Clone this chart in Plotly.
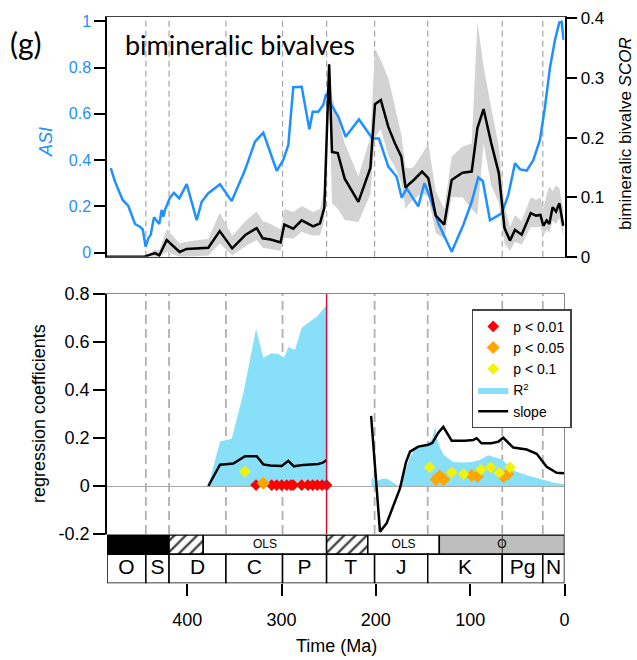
import plotly.graph_objects as go

# ---------------- data ----------------
# Geological periods (Ma)
period_names = ["O", "S", "D", "C", "P", "T", "J", "K", "Pg", "N"]
period_start = [485.0, 443.8, 419.2, 358.9, 298.9, 252.2, 201.3, 145.0, 66.0, 23.0]
period_end = [443.8, 419.2, 358.9, 298.9, 252.2, 201.3, 145.0, 66.0, 23.0, 0.0]
boundaries = [443.8, 419.2, 358.9, 298.9, 252.2, 201.3, 145.0, 66.0, 23.0]

# Regression method per interval
method_start = [485.0, 419.2, 383.0, 252.2, 208.5, 132.7]
method_end = [419.2, 383.0, 252.2, 208.5, 132.7, 0.0]
method_label = ["", "", "OLS", "", "OLS", "O"]
method_color = ["black", "white", "white", "white", "white", "#BEBEBE"]
method_pattern = ["", "/", "", "/", "", ""]

# Top panel: ASI
asi_age = [481.0, 476.5, 468.4, 462.4, 455.3, 450.0, 447.2, 444.0, 441.2, 438.7,
           435.2, 432.3, 429.6, 427.0, 425.3, 423.5, 421.7, 418.2, 414.0, 408.4,
           400.5, 389.9, 384.6, 377.6, 365.2, 352.8, 338.7, 328.1, 319.3, 305.1,
           298.1, 292.8, 287.5, 278.6, 270.5, 266.9, 261.0, 255.7, 252.8, 246.2,
           239.8, 232.0, 217.9, 203.7, 196.7, 186.8, 177.9, 172.6, 167.3, 162.0,
           155.0, 148.5, 142.6, 133.8, 119.6, 107.3, 98.4, 91.4, 86.6, 79.0,
           66.6, 59.6, 52.5, 47.0, 40.1, 33.1, 26.0, 20.7, 15.4, 10.1,
           5.5, 3.0, 1.0]
asi = [0.365, 0.307, 0.228, 0.202, 0.124, 0.112, 0.101, 0.026, 0.062, 0.077,
       0.153, 0.138, 0.124, 0.185, 0.156, 0.185, 0.206, 0.238, 0.259, 0.235,
       0.296, 0.141, 0.220, 0.257, 0.296, 0.223, 0.357, 0.480, 0.519, 0.354,
       0.401, 0.465, 0.715, 0.717, 0.533, 0.609, 0.609, 0.638, 0.686, 0.631,
       0.588, 0.501, 0.576, 0.494, 0.494, 0.372, 0.328, 0.238, 0.278, 0.242,
       0.200, 0.300, 0.240, 0.127, 0.004, 0.120, 0.220, 0.325, 0.310, 0.140,
       0.170, 0.250, 0.386, 0.360, 0.355, 0.400, 0.487, 0.630, 0.800, 0.919,
       0.995, 0.998, 0.920]

# Top panel: SCOR with its uncertainty band
scor_age = [485.0, 445.0, 440.0, 434.0, 429.6, 421.7, 408.0, 400.6, 377.6, 365.5,
            352.3, 338.0, 326.3, 320.0, 311.5, 301.0, 297.0, 287.5, 278.6, 266.5,
            259.2, 254.6, 249.5, 246.5, 240.4, 233.0, 218.5, 205.8, 200.9, 194.7,
            186.8, 179.7, 173.0, 168.5, 164.0, 160.3, 151.0, 144.4, 136.5, 127.5,
            119.6, 108.2, 98.4, 92.3, 85.8, 77.7, 69.6, 63.6, 57.8, 52.5,
            45.4, 35.8, 30.2, 25.5, 22.5, 18.9, 16.1, 12.6, 9.0, 5.5,
            1.3]
scor = [0.0, 0.0, 0.003, 0.006, 0.002, 0.028, 0.008, 0.013, 0.015, 0.043,
        0.014, 0.037, 0.048, 0.031, 0.029, 0.024, 0.054, 0.047, 0.061, 0.051,
        0.056, 0.082, 0.323, 0.176, 0.174, 0.131, 0.092, 0.149, 0.256, 0.263,
        0.218, 0.190, 0.168, 0.116, 0.123, 0.128, 0.143, 0.132, 0.069, 0.054,
        0.129, 0.141, 0.143, 0.216, 0.248, 0.191, 0.140, 0.048, 0.027, 0.045,
        0.037, 0.073, 0.069, 0.070, 0.052, 0.061, 0.055, 0.083, 0.076, 0.090,
        0.052]
scor_lo = [0.0, 0.0, 0.0, 0.0, 0.0, 0.008, 0.0, 0.0, 0.002, 0.022,
           0.002, 0.018, 0.028, 0.015, 0.013, 0.010, 0.032, 0.030, 0.042, 0.035,
           0.036, 0.060, 0.280, 0.090, 0.080, 0.062, 0.058, 0.105, 0.200, 0.215,
           0.170, 0.150, 0.125, 0.080, 0.090, 0.095, 0.108, 0.100, 0.040, 0.030,
           0.100, 0.100, 0.080, 0.070, 0.190, 0.120, 0.090, 0.022, 0.010, 0.025,
           0.020, 0.050, 0.050, 0.050, 0.035, 0.045, 0.040, 0.060, 0.055, 0.065,
           0.035]
scor_hi = [0.0, 0.0, 0.005, 0.012, 0.010, 0.046, 0.022, 0.025, 0.030, 0.074,
           0.035, 0.060, 0.076, 0.060, 0.055, 0.046, 0.080, 0.075, 0.085, 0.075,
           0.080, 0.110, 0.330, 0.270, 0.235, 0.190, 0.135, 0.200, 0.350, 0.330,
           0.300, 0.250, 0.205, 0.150, 0.148, 0.150, 0.172, 0.190, 0.110, 0.080,
           0.168, 0.185, 0.190, 0.395, 0.320, 0.250, 0.185, 0.085, 0.050, 0.070,
           0.060, 0.100, 0.095, 0.100, 0.080, 0.105, 0.118, 0.110, 0.120, 0.115,
           0.080]

# Bottom panel: regression slope (gap between the two fitted intervals)
slope_age = [377.6, 365.2, 351.1, 338.7, 326.3, 319.3, 312.2, 299.8, 292.8, 286.8,
             276.9, 261.0, 256.3, 252.1, None, 205.0, 195.6, 188.5, 174.4, 168.0,
             163.8, 155.0, 144.4, 140.0, 133.8, 128.5, 119.6, 105.5, 96.7, 93.1,
             88.0, 77.2, 70.0, 64.9, 54.3, 40.1, 29.5, 18.9, 8.3, 0.5]
slope = [0.0, 0.089, 0.094, 0.124, 0.124, 0.090, 0.085, 0.083, 0.105, 0.082,
         0.088, 0.092, 0.097, 0.108, None, 0.292, -0.190, -0.155, -0.010, 0.100,
         0.143, 0.164, 0.172, 0.180, 0.222, 0.246, 0.189, 0.189, 0.192, 0.199,
         0.178, 0.178, 0.185, 0.201, 0.160, 0.152, 0.134, 0.080, 0.055, 0.053]

# Bottom panel: R^2, first and second interval
r2_age_a = [377.6, 365.2, 352.8, 340.5, 327.0, 319.3, 310.4, 303.4, 297.0, 292.8,
            285.7, 278.6, 271.6, 262.7, 252.1]
r2_a = [0.0, 0.185, 0.197, 0.386, 0.655, 0.534, 0.553, 0.550, 0.535, 0.579,
        0.568, 0.659, 0.680, 0.705, 0.754]
r2_age_b = [204.6, 204.4, 200.0, 193.0, 188.0, 182.0, 176.0, 173.0, 169.0, 164.0,
            158.0, 153.0, 144.4, 140.0, 137.0, 135.5, 132.0, 128.0, 121.0, 118.0,
            108.0, 98.0, 90.0, 81.0, 74.0, 66.0, 60.0, 54.0, 40.0, 26.0,
            12.0, 0.5]
r2_b = [0.0, 0.035, 0.020, 0.030, 0.030, 0.015, 0.0, 0.010, 0.060, 0.120,
        0.160, 0.170, 0.176, 0.200, 0.250, 0.200, 0.160, 0.130, 0.108, 0.100,
        0.098, 0.100, 0.108, 0.128, 0.120, 0.110, 0.085, 0.065, 0.045, 0.030,
        0.015, 0.007]

# Significance markers
p01_age = [327.0, 310.4, 305.1, 299.8, 294.5, 290.0, 287.5, 278.6, 272.0, 267.0,
           262.0, 257.0, 252.2]
p01_val = [0.004, 0.004, 0.004, 0.004, 0.004, 0.004, 0.004, 0.004, 0.004, 0.004,
           0.004, 0.004, 0.004]
p05_age = [319.3, 136.2, 132.4, 128.1, 98.4, 92.2, 64.5, 60.1]
p05_val = [0.011, 0.027, 0.042, 0.027, 0.044, 0.040, 0.039, 0.050]
p10_age = [338.7, 143.0, 119.5, 107.1, 88.5, 78.2, 69.2, 57.8]
p10_val = [0.060, 0.078, 0.056, 0.050, 0.068, 0.078, 0.055, 0.078]

# ---------------- layout helpers ----------------
W, H = 637, 660
BLUE = "#1E90FF"
R2_COLOR = "#88E0F8"
FONT = "Liberation Sans"


def fx(p):
    return p / W


def fy(p):
    return 1 - p / H


xdom = [fx(107), fx(564.5)]
t_range = [485, 0]

fig = go.Figure()

# --- top panel ---
fig.add_trace(go.Scatter(x=scor_age, y=scor_lo, xaxis="x", yaxis="y", mode="lines",
                         line=dict(width=0), showlegend=False, hoverinfo="skip"))
fig.add_trace(go.Scatter(x=scor_age, y=scor_hi, xaxis="x", yaxis="y", mode="lines",
                         line=dict(width=0), fill="tonexty", fillcolor="#D3D3D3",
                         showlegend=False, hoverinfo="skip"))
fig.add_trace(go.Scatter(x=asi_age, y=asi, xaxis="x", yaxis="y2", mode="lines",
                         line=dict(color=BLUE, width=2.5), showlegend=False))
fig.add_trace(go.Scatter(x=scor_age, y=scor, xaxis="x", yaxis="y3", mode="lines",
                         line=dict(color="black", width=2.5), showlegend=False))

# --- bottom panel ---
fig.add_trace(go.Scatter(x=r2_age_a, y=r2_a, xaxis="x2", yaxis="y4", mode="lines",
                         line=dict(width=0, color=R2_COLOR), fill="tozeroy",
                         fillcolor=R2_COLOR, name="R<sup>2</sup>", legendrank=4))
fig.add_trace(go.Scatter(x=r2_age_b, y=r2_b, xaxis="x2", yaxis="y4", mode="lines",
                         line=dict(width=0, color=R2_COLOR), fill="tozeroy",
                         fillcolor=R2_COLOR, showlegend=False))
fig.add_trace(go.Scatter(x=slope_age, y=slope, xaxis="x2", yaxis="y4", mode="lines",
                         line=dict(color="black", width=2.5), connectgaps=False,
                         name="slope", legendrank=5))
fig.add_trace(go.Scatter(x=p01_age, y=p01_val, xaxis="x2", yaxis="y4", mode="markers",
                         marker=dict(symbol="diamond", size=9, color="#FF0000"),
                         name="p < 0.01", legendrank=1, cliponaxis=False))
fig.add_trace(go.Scatter(x=p05_age, y=p05_val, xaxis="x2", yaxis="y4", mode="markers",
                         marker=dict(symbol="diamond", size=10, color="#FFA500"),
                         name="p < 0.05", legendrank=2))
fig.add_trace(go.Scatter(x=p10_age, y=p10_val, xaxis="x2", yaxis="y4", mode="markers",
                         marker=dict(symbol="diamond", size=9, color="#F2F20A"),
                         name="p < 0.1", legendrank=3))

# --- time scale bar ---
ROW_P = 14.5    # centre of the period row
ROW_M = 38.65   # centre of the method row
fig.add_trace(go.Bar(
    orientation="h", xaxis="x3", yaxis="y5",
    y=[ROW_M] * len(method_start), base=method_end,
    x=[s - e for s, e in zip(method_start, method_end)],
    width=19.3, showlegend=False, hoverinfo="skip", cliponaxis=False,
    marker=dict(color=method_color, line=dict(color="black", width=1.5),
                pattern=dict(shape=method_pattern, fgcolor="black", bgcolor="white",
                             fgopacity=1, size=8, solidity=0.3, fillmode="overlay"))))
fig.add_trace(go.Bar(
    orientation="h", xaxis="x3", yaxis="y5",
    y=[ROW_P] * len(period_start), base=period_end,
    x=[s - e for s, e in zip(period_start, period_end)],
    width=29, showlegend=False, hoverinfo="skip", cliponaxis=False,
    marker=dict(color="white", line=dict(color="black", width=1.5))))
fig.add_trace(go.Scatter(
    x=[(s + e) / 2 for s, e in zip(period_start, period_end)],
    y=[ROW_P] * len(period_start), xaxis="x3", yaxis="y5", mode="text",
    text=period_names, textfont=dict(family=FONT, size=21, color="black"),
    showlegend=False, hoverinfo="skip", cliponaxis=False))
labelled = [i for i, lab in enumerate(method_label) if lab]
fig.add_trace(go.Scatter(
    x=[(method_start[i] + method_end[i]) / 2 for i in labelled],
    y=[ROW_M] * len(labelled), xaxis="x3", yaxis="y5", mode="text",
    text=[method_label[i] for i in labelled],
    textfont=dict(family=FONT, size=12, color="black"),
    showlegend=False, hoverinfo="skip", cliponaxis=False))

# ---------------- shapes ----------------
shapes = []
for b in boundaries:
    shapes.append(dict(type="line", xref="x", yref="y domain", x0=b, x1=b, y0=0, y1=1,
                       line=dict(color="#A6A6A6", width=1.2, dash="6px,4px"), layer="below"))
    if b != 252.2:
        shapes.append(dict(type="line", xref="x2", yref="y4 domain", x0=b, x1=b, y0=0, y1=1,
                           line=dict(color="#B0B0B0", width=1.8, dash="9px,5px"), layer="below"))
# end-Permian boundary in the regression panel
shapes.append(dict(type="line", xref="x2", yref="y4 domain", x0=252.2, x1=252.2, y0=0, y1=1,
                   line=dict(color="#D0103A", width=1.5)))
# right border of the regression panel
shapes.append(dict(type="line", xref="x2 domain", yref="y4 domain", x0=1, x1=1, y0=0, y1=1,
                   line=dict(color="#888888", width=1)))
# K/Pg mark across the method row
shapes.append(dict(type="line", xref="x3", yref="y5", x0=66.0, x1=66.0, y0=29, y1=48.3,
                   line=dict(color="#333333", width=1)))

# ---------------- annotations ----------------
def label(text, x, y, size, family=FONT, color="black", angle=0, xanchor="center"):
    return dict(text=text, x=fx(x), y=fy(y), xref="paper", yref="paper",
                xanchor=xanchor, yanchor="middle", textangle=angle, showarrow=False,
                font=dict(family=family, size=size, color=color))


annotations = [
    label("(g)", 26, 43, 30, family="Lato"),
    label("bimineralic bivalves", 123, 45, 27, family="Lato", xanchor="left"),
    label("<i>ASI</i>", 46, 142, 18, color=BLUE, angle=-90),
    label("bimineralic bivalve <i>SCOR</i>", 626, 134, 17, angle=-90),
    label("regression coefficients", 39, 414, 18, angle=-90),
    label("Time (Ma)", 336, 646, 18),
]

# ---------------- axes ----------------
top_dom = [fy(256.7), fy(16.7)]
bot_dom = [fy(534), fy(294)]
bar_dom = [fy(583.3), fy(535)]
scor_range = [0, 0.403]

common_x = dict(domain=xdom, range=t_range, showgrid=False, zeroline=False, automargin=False)

fig.update_layout(
    template="none",
    width=W, height=H, autosize=False,
    margin=dict(l=0, r=0, t=0, b=0, pad=0, autoexpand=False),
    paper_bgcolor="white", plot_bgcolor="white",
    font=dict(family=FONT, color="black"),
    barmode="overlay",
    showlegend=True,
    legend=dict(x=fx(471.7), y=fy(309.3), xanchor="left", yanchor="top",
                bgcolor="white", bordercolor="#444444", borderwidth=1.5,
                font=dict(family=FONT, size=14, color="black"),
                itemwidth=30, tracegroupgap=0, traceorder="normal"),
    xaxis=dict(**common_x, anchor="y", showline=True, mirror=True, linecolor="#404040",
               linewidth=1, ticks="", showticklabels=False),
    yaxis=dict(domain=top_dom, range=scor_range, anchor="x", side="right",
               showline=True, linecolor="black", linewidth=1.5,
               ticks="outside", ticklen=11, tickwidth=1.5, tickcolor="black",
               tickvals=[0, 0.1, 0.2, 0.3, 0.4], ticktext=["0", "0.1", "0.2", "0.3", "0.4"],
               tickfont=dict(family=FONT, size=17, color="black"),
               showgrid=False, zeroline=False, automargin=False),
    yaxis2=dict(overlaying="y", range=[-0.0173, 1.0199], anchor="x", side="left",
                showline=True, linecolor="black", linewidth=1.5,
                ticks="outside", ticklen=11, tickwidth=1.5, tickcolor="black",
                tickvals=[0, 0.2, 0.4, 0.6, 0.8, 1], ticktext=["0", "0.2", "0.4", "0.6", "0.8", "1"],
                tickfont=dict(family=FONT, size=16, color=BLUE),
                showgrid=False, zeroline=False, automargin=False),
    yaxis3=dict(overlaying="y", range=scor_range, anchor="x", visible=False,
                showgrid=False, zeroline=False, automargin=False),
    xaxis2=dict(**common_x, anchor="y4", showline=True, mirror=True, linecolor="#888888",
                linewidth=1, ticks="", showticklabels=False),
    yaxis4=dict(domain=bot_dom, range=[-0.2, 0.8], anchor="x2",
                showline=True, linecolor="black", linewidth=1.5,
                ticks="outside", ticklen=12, tickwidth=1.5, tickcolor="black",
                tickvals=[-0.2, 0, 0.2, 0.4, 0.6, 0.8],
                ticktext=["-0.2", "0", "0.2", "0.4", "0.6", "0.8"],
                tickfont=dict(family=FONT, size=18, color="black"),
                showgrid=False, zeroline=True, zerolinecolor="#A8A8A8", zerolinewidth=1,
                automargin=False),
    xaxis3=dict(**common_x, anchor="y5", showline=False,
                ticks="outside", ticklen=12, tickwidth=1.5, tickcolor="black",
                tickvals=[400, 300, 200, 100, 0], ticktext=["400", "300", "200", "100", "0"],
                tickfont=dict(family=FONT, size=18, color="black"), ticklabelstandoff=8),
    yaxis5=dict(domain=bar_dom, range=[0, 48.3], anchor="x3", visible=False,
                showgrid=False, zeroline=False, automargin=False),
    shapes=shapes,
    annotations=annotations,
)

fig.write_html("out.html")
